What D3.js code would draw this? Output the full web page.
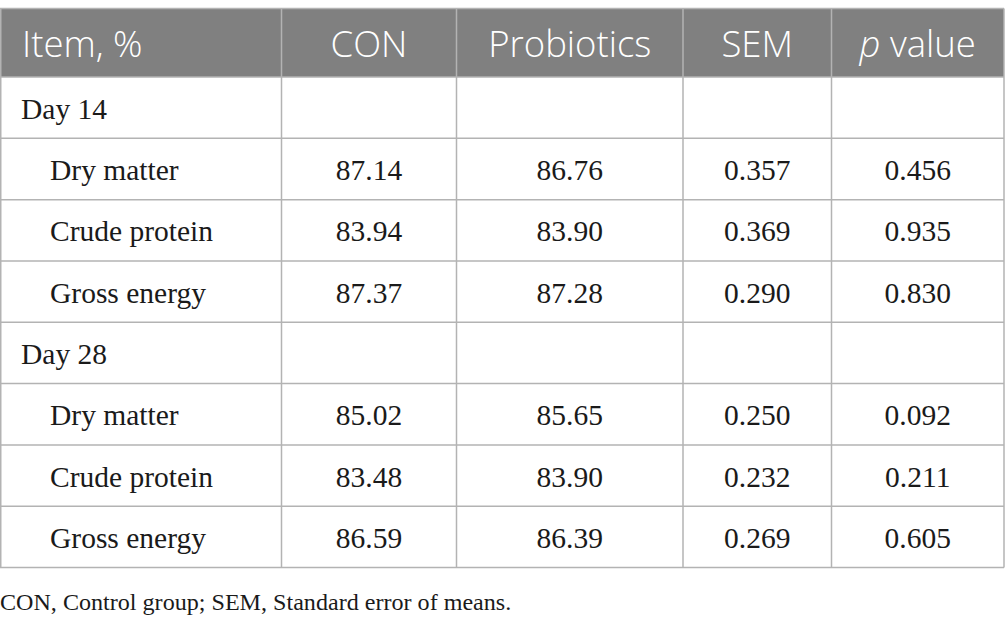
<!DOCTYPE html>
<html><head><meta charset="utf-8">
<script src="https://cdn.jsdelivr.net/npm/d3@7"></script>
<style>body{margin:0;background:#fff;}svg{display:block;}</style>
</head><body>
<script>
const headers = ["Item, %", "CON", "Probiotics", "SEM", "p value"];
const items = ["Day 14","Dry matter","Crude protein","Gross energy","Day 28","Dry matter","Crude protein","Gross energy"];
const indent = [false,true,true,true,false,true,true,true];
const con = [null, 87.14, 83.94, 87.37, null, 85.02, 83.48, 86.59];
const probiotics = [null, 86.76, 83.90, 87.28, null, 85.65, 83.90, 86.39];
const sem = [null, 0.357, 0.369, 0.290, null, 0.250, 0.232, 0.269];
const pValue = [null, 0.456, 0.935, 0.830, null, 0.092, 0.211, 0.605];
const footnote = "CON, Control group; SEM, Standard error of means.";

const W = 1005, H = 624;
const colEdges = [0, 281.5, 456.5, 683, 831.5, 1004];
const tableTop = 8.5, headBottom = 77, bodyBottom = 567.5;
const lineColor = "#b3b3b3";

const svg = d3.select("body").append("svg").attr("width", W).attr("height", H);

const y = d3.scaleBand().domain(d3.range(items.length)).range([headBottom, bodyBottom]).padding(0);
const colMid = i => (colEdges[i] + colEdges[i+1]) / 2;

// header background
svg.append("rect").attr("x", colEdges[0]).attr("y", tableTop).attr("width", colEdges[5]-colEdges[0]).attr("height", headBottom-tableTop).attr("fill", "#808080");

// header text
const hfont = "'Open Sans', 'Noto Sans', sans-serif";
const hBase = 57, hSize = 36.5;
const head = svg.append("g").attr("font-family", hfont).attr("font-size", hSize).attr("font-weight", 300).attr("fill", "#fff");
head.append("text").attr("x", 22).attr("y", hBase).text(headers[0]);
for (let i = 1; i < 4; i++) {
  head.append("text").attr("x", colMid(i)).attr("y", hBase).attr("text-anchor", "middle").text(headers[i]);
}
const pt = head.append("text").attr("x", colMid(4)).attr("y", hBase).attr("text-anchor", "middle");
pt.append("tspan").attr("font-style", "italic").text("p");
pt.append("tspan").text(" value");

// grid lines
const g = svg.append("g").attr("stroke", lineColor).attr("stroke-width", 1.5);
const hLines = [tableTop, headBottom].concat(d3.range(items.length).map(i => y(i) + y.bandwidth()));
g.selectAll("line.h").data(hLines).join("line").attr("class","h")
  .attr("x1", colEdges[0]).attr("x2", colEdges[5]).attr("y1", d => d).attr("y2", d => d);
g.selectAll("line.v").data(colEdges).join("line").attr("class","v")
  .attr("x1", d => d === 0 ? 0.75 : d).attr("x2", d => d === 0 ? 0.75 : d).attr("y1", tableTop).attr("y2", bodyBottom);

// body text
const bfont = "'Liberation Serif', 'DejaVu Serif', serif";
const bsize = 29.5;
const rows = svg.append("g").attr("font-family", bfont).attr("font-size", bsize).attr("fill", "#1a1a1a");
const f2 = d3.format(".2f"), f3 = d3.format(".3f");
items.forEach((it, i) => {
  const base = y(i) + y.bandwidth()/2 + 11;
  rows.append("text").attr("x", indent[i] ? 50 : 21).attr("y", base).text(it);
  const vals = [con[i] == null ? "" : f2(con[i]), probiotics[i] == null ? "" : f2(probiotics[i]),
                sem[i] == null ? "" : f3(sem[i]), pValue[i] == null ? "" : f3(pValue[i])];
  vals.forEach((v, j) => {
    if (v) rows.append("text").attr("x", colMid(j+1)).attr("y", base).attr("text-anchor", "middle").text(v);
  });
});

svg.append("text").attr("x", 0).attr("y", 610).attr("font-family", bfont).attr("font-size", 24.1).attr("fill", "#1a1a1a").text(footnote);
</script>
</body></html>
